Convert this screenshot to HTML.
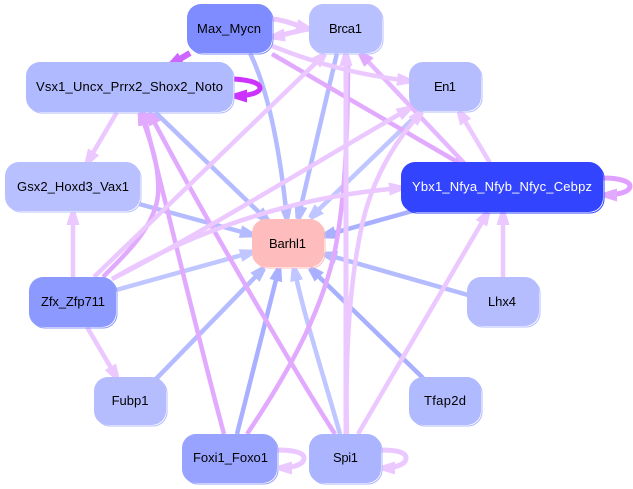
<!DOCTYPE html>
<html><head><meta charset="utf-8"><style>
html,body{margin:0;padding:0;background:#fff;width:633px;height:489px;overflow:hidden}
svg{display:block}
text{font-family:"Liberation Sans",sans-serif;font-size:13px;fill:#000}
path{fill:none;stroke-width:4.5}
.a{stroke:#ebc8ff}.b{stroke:#e2aaff}.c{stroke:#b4bcff}.d{stroke:#a8b0ff}.e{stroke:#c0c6ff}
</style></head><body>
<svg width="633" height="489" viewBox="0 0 633 489" xmlns="http://www.w3.org/2000/svg">
<defs>
<marker id="ma" markerUnits="userSpaceOnUse" markerWidth="14" markerHeight="14" refX="13" refY="7" orient="auto"><path d="M0 0.5L13 4.5L13 9.5L0 13.5Z" style="fill:#ebc8ff;stroke:none"/></marker>
<marker id="mb" markerUnits="userSpaceOnUse" markerWidth="14" markerHeight="14" refX="13" refY="7" orient="auto"><path d="M0 0.5L13 4.5L13 9.5L0 13.5Z" style="fill:#e2aaff;stroke:none"/></marker>
<marker id="mc" markerUnits="userSpaceOnUse" markerWidth="14" markerHeight="14" refX="13" refY="7" orient="auto"><path d="M0 0.5L13 4.5L13 9.5L0 13.5Z" style="fill:#b4bcff;stroke:none"/></marker>
<marker id="md" markerUnits="userSpaceOnUse" markerWidth="14" markerHeight="14" refX="13" refY="7" orient="auto"><path d="M0 0.5L13 4.5L13 9.5L0 13.5Z" style="fill:#a8b0ff;stroke:none"/></marker>
<marker id="me" markerUnits="userSpaceOnUse" markerWidth="14" markerHeight="14" refX="13" refY="7" orient="auto"><path d="M0 0.5L13 4.5L13 9.5L0 13.5Z" style="fill:#c0c6ff;stroke:none"/></marker>
<marker id="mf" markerUnits="userSpaceOnUse" markerWidth="14" markerHeight="14" refX="13" refY="7" orient="auto"><path d="M0 0.5L13 4.5L13 9.5L0 13.5Z" style="fill:#cc66ff;stroke:none"/></marker>
<marker id="mg" markerUnits="userSpaceOnUse" markerWidth="14" markerHeight="14" refX="13" refY="7" orient="auto"><path d="M0 0.5L13 4.5L13 9.5L0 13.5Z" style="fill:#cc33ff;stroke:none"/></marker>
</defs>

<!-- blue edges -->
<path class="c" marker-end="url(#mc)" d="M250 53C268 90 280 150 287 219"/>
<path class="c" marker-end="url(#mc)" d="M155 112L268 221"/>
<path class="c" marker-end="url(#mc)" d="M139 204L253 235"/>
<path class="e" marker-end="url(#me)" d="M116 290L253 252"/>
<path class="c" marker-end="url(#mc)" d="M155 380L264 268"/>
<path class="d" marker-end="url(#md)" d="M237 434L279 268"/>
<path class="e" marker-end="url(#me)" d="M340 434C325 380 305 320 294 268"/>
<path class="d" marker-end="url(#md)" d="M423 378L310 268"/>
<path class="c" marker-end="url(#mc)" d="M468 295L324 254"/>
<path class="d" marker-end="url(#md)" d="M416 210L323 236"/>
<path class="c" marker-end="url(#mc)" d="M337 53L298 219"/>
<path class="e" marker-end="url(#me)" d="M420 112L310 218"/>

<!-- medium purple -->
<path class="b" marker-end="url(#mb)" d="M272 54L466 167"/>
<path class="b" marker-end="url(#mb)" d="M224 434C205 365 170 220 143 112"/>
<path class="b" marker-end="url(#mb)" d="M335 434C300 380 200 210 149 112"/>
<path class="b" marker-end="url(#mb)" d="M103 277C130 250 155 225 158 195C160 165 150 140 140 112"/>
<path class="b" d="M247 434C280 385 320 320 335 250C345 200 348 130 348 60"/>
<path class="b" style="stroke:#e6b8ff" marker-end="url(#mb)" d="M466 165L360 53"/>

<!-- light purple -->
<path class="a" style="stroke-width:5" marker-end="url(#ma)" d="M272 19C285 20 295 25 309 29"/>
<path class="a" style="stroke-width:5" marker-end="url(#ma)" d="M309 29C295 31 285 35 272 37"/>
<path class="a" marker-end="url(#ma)" d="M272 46C320 65 360 75 410 81"/>
<path class="a" marker-end="url(#ma)" d="M117 112L87 163"/>
<path class="a" marker-end="url(#ma)" d="M94 277L325 54"/>
<path class="a" marker-end="url(#ma)" d="M112 279C190 240 320 160 410 108"/>
<path class="a" marker-end="url(#ma)" d="M112 279C170 245 270 198 402 188"/>
<path class="a" marker-end="url(#ma)" d="M73 277L73 212"/>
<path class="a" marker-end="url(#ma)" d="M87 327L117 378"/>
<path class="a" style="stroke-width:5" marker-end="url(#ma)" d="M346 434L346 53"/>
<path class="a" marker-end="url(#ma)" d="M347 434C345 350 350 280 362 225C372 180 395 140 422 112"/>
<path class="a" marker-end="url(#ma)" d="M358 434L488 212"/>
<path class="a" marker-end="url(#ma)" d="M503 277L503 212"/>
<path class="a" marker-end="url(#ma)" d="M490 163L459 111"/>
<path class="a" style="stroke-width:5" marker-end="url(#ma)" d="M277 450C292 450 304 452 304 458C304 465 292 468 279 468"/>
<path class="a" style="stroke-width:5" marker-end="url(#ma)" d="M381 450C396 450 406 452 406 458C406 465 394 468 382 468"/>

<!-- saturated -->
<path style="stroke:#e0a0ff;stroke-width:5" marker-end="url(#mb)" d="M603 178C618 178 630 181 630 186C630 192 618 195 604 195"/>
<path style="stroke:#cc66ff;stroke-width:6" marker-end="url(#mf)" d="M190 53L170 65"/>
<path style="stroke:#cc33ff;stroke-width:5" marker-end="url(#mg)" d="M234 79C250 80 260 83 260 88C260 93 248 96 234 96"/>

<!-- nodes -->
<rect x="189" y="6" width="84" height="48" rx="14" fill="none" stroke="#7f8cff"/>
<rect x="187" y="4" width="85" height="49" rx="14" fill="#7f8cff"/>
<rect x="311" y="6" width="72" height="48" rx="14" fill="none" stroke="#b9c0ff"/>
<rect x="309" y="4" width="73" height="49" rx="14" fill="#b9c0ff"/>
<rect x="411" y="64" width="71" height="48" rx="14" fill="none" stroke="#b5bdff"/>
<rect x="409" y="62" width="72" height="49" rx="14" fill="#b5bdff"/>
<rect x="28" y="64" width="206" height="49" rx="14" fill="none" stroke="#b0baff"/>
<rect x="26" y="62" width="207" height="50" rx="14" fill="#b0baff"/>
<rect x="7" y="164" width="134" height="48" rx="14" fill="none" stroke="#b9c0ff"/>
<rect x="5" y="162" width="135" height="49" rx="14" fill="#b9c0ff"/>
<rect x="254" y="221" width="71" height="47" rx="14" fill="none" stroke="#ffbcbc"/>
<rect x="252" y="219" width="72" height="48" rx="14" fill="#ffbcbc"/>
<rect x="403" y="164" width="201" height="49" rx="14" fill="none" stroke="#3344ff"/>
<rect x="401" y="162" width="202" height="50" rx="14" fill="#3344ff"/>
<rect x="31" y="279" width="86" height="49" rx="14" fill="none" stroke="#8c99ff"/>
<rect x="29" y="277" width="87" height="50" rx="14" fill="#8c99ff"/>
<rect x="469" y="279" width="71" height="48" rx="14" fill="none" stroke="#b5bdff"/>
<rect x="467" y="277" width="72" height="49" rx="14" fill="#b5bdff"/>
<rect x="96" y="379" width="71" height="47" rx="14" fill="none" stroke="#b5bdff"/>
<rect x="94" y="377" width="72" height="48" rx="14" fill="#b5bdff"/>
<rect x="411" y="379" width="71" height="47" rx="14" fill="none" stroke="#b0baff"/>
<rect x="409" y="377" width="72" height="48" rx="14" fill="#b0baff"/>
<rect x="184" y="436" width="94" height="48" rx="14" fill="none" stroke="#98a3ff"/>
<rect x="182" y="434" width="95" height="49" rx="14" fill="#98a3ff"/>
<rect x="311" y="436" width="71" height="48" rx="14" fill="none" stroke="#abb4ff"/>
<rect x="309" y="434" width="72" height="49" rx="14" fill="#abb4ff"/>

<!-- labels -->
<text x="197" y="33" textLength="64" lengthAdjust="spacing">Max_Mycn</text>
<text x="329" y="33" textLength="33" lengthAdjust="spacing">Brca1</text>
<text x="434" y="91" textLength="22" lengthAdjust="spacing">En1</text>
<text x="36" y="91" textLength="187" lengthAdjust="spacing">Vsx1_Uncx_Prrx2_Shox2_Noto</text>
<text x="17" y="191" textLength="112" lengthAdjust="spacing">Gsx2_Hoxd3_Vax1</text>
<text x="269" y="248" textLength="37" lengthAdjust="spacing">Barhl1</text>
<text x="412" y="191" textLength="180" lengthAdjust="spacing" style="fill:#fff">Ybx1_Nfya_Nfyb_Nfyc_Cebpz</text>
<text x="41" y="306" textLength="64" lengthAdjust="spacing">Zfx_Zfp711</text>
<text x="488" y="306" textLength="28" lengthAdjust="spacing">Lhx4</text>
<text x="130" y="405" text-anchor="middle">Fubp1</text>
<text x="424" y="405" textLength="42" lengthAdjust="spacing">Tfap2d</text>
<text x="193" y="462" textLength="75" lengthAdjust="spacing">Foxi1_Foxo1</text>
<text x="333" y="462" textLength="25" lengthAdjust="spacing">Spi1</text>
</svg>
</body></html>
